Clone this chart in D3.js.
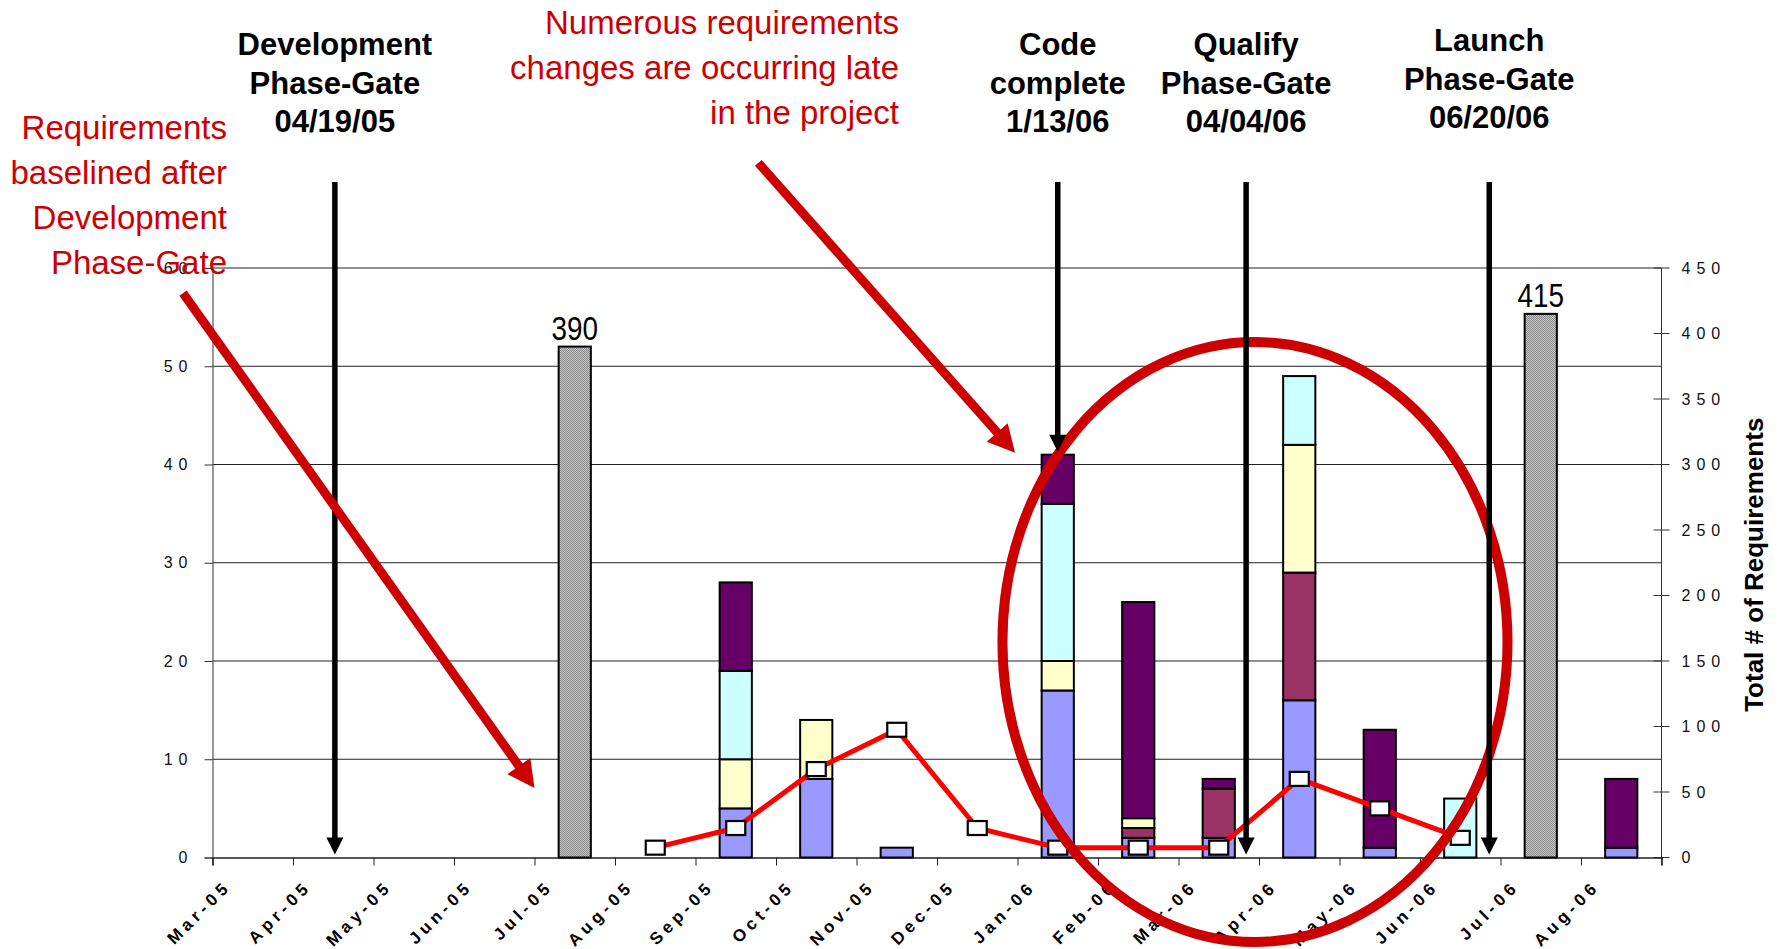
<!DOCTYPE html>
<html>
<head>
<meta charset="utf-8">
<script src="https://cdn.jsdelivr.net/npm/d3@7"></script>
<style>
  body { margin: 0; background: #fff; }
  svg { display: block; font-family: Arial, "Liberation Sans", sans-serif; }
</style>
</head>
<body>
<div id="chart"></div>
<script>
// months on the date axis
const months = ["Mar-05","Apr-05","May-05","Jun-05","Jul-05","Aug-05","Sep-05","Oct-05","Nov-05",
                "Dec-05","Jan-06","Feb-06","Mar-06","Apr-06","May-06","Jun-06","Jul-06","Aug-06"];

// stacked change counts (left axis), bottom to top
const lavender = [0,0,0,0,0,0,5,8,1,0,17,2,2,16,1,0,0,1];
const plum     = [0,0,0,0,0,0,0,0,0,0,0,1,5,13,0,0,0,0];
const cream    = [0,0,0,0,0,0,5,6,0,0,3,1,0,13,0,0,0,0];
const aqua     = [0,0,0,0,0,0,9,0,0,0,16,0,0,7,0,6,0,0];
const purple   = [0,0,0,0,0,0,9,0,0,0,5,22,1,0,12,0,0,7];

// total # of requirements (right axis)
const totalReqs = [null,null,null,null,390,null,null,null,null,null,null,null,null,null,null,null,415,null];

// red trend line (left axis)
const trend = [null,null,null,null,null,1,3,9,13,3,1,1,1,8,5,2,null,null];

const leftTicks = [0,10,20,30,40,50,60];
const rightTicks = [0,50,100,150,200,250,300,350,400,450];

// milestones: position in months from Mar-05, arrow tip value
const milestoneText = [
  ["Development","Phase-Gate","04/19/05"],
  ["Code","complete","1/13/06"],
  ["Qualify","Phase-Gate","04/04/06"],
  ["Launch","Phase-Gate","06/20/06"]
];
const milestonePos = [1.52, 10.5, 12.84, 15.86];
const milestoneTip = [0, 41, 0, 0];

const noteLeft = ["Requirements","baselined after","Development","Phase-Gate"];
const noteTop = ["Numerous requirements","changes are occurring late","in the project"];

const keys = ["lavender","plum","cream","aqua","purple"];
const colors = {lavender:"#9999FF", plum:"#993366", cream:"#FFFFCC", aqua:"#CCFFFF", purple:"#660066"};

const W = 1782, H = 949;
const plot = {left: 212.5, right: 1661.5, top: 268, bottom: 857.5};

const svg = d3.select("#chart").append("svg")
  .attr("width", W).attr("height", H);

const defs = svg.append("defs");
const pat = defs.append("pattern").attr("id","hatch")
  .attr("patternUnits","userSpaceOnUse").attr("width",2).attr("height",2);
pat.append("rect").attr("width",2).attr("height",2).attr("fill","#c4c4c4");
pat.append("rect").attr("width",1).attr("height",1).attr("fill","#8c8c8c");
pat.append("rect").attr("x",1).attr("y",1).attr("width",1).attr("height",1).attr("fill","#8c8c8c");

const x = d3.scaleBand().domain(months)
  .range([plot.left, plot.right]).paddingInner(0.6).paddingOuter(0.3);
const xm = d3.scaleLinear().domain([0, months.length]).range([plot.left, plot.right]);
const yL = d3.scaleLinear().domain([0, 60]).range([plot.bottom, plot.top]);
const yR = d3.scaleLinear().domain([0, 450]).range([plot.bottom, plot.top]);

// gridlines
svg.append("g").selectAll("line")
  .data(leftTicks.slice(1))
  .join("line")
    .attr("x1", plot.left).attr("x2", plot.right)
    .attr("y1", d => yL(d)).attr("y2", d => yL(d))
    .attr("stroke", "#222").attr("stroke-width", 1);

// left axis
const gl = svg.append("g")
  .attr("transform", `translate(${plot.left},0)`)
  .call(d3.axisLeft(yL).tickValues(leftTicks).tickSize(8).tickPadding(11));
gl.select(".domain").attr("stroke","#333");
gl.selectAll(".tick line").attr("stroke","#333");
gl.selectAll("text").attr("font-size", 16).attr("letter-spacing", "6px")
  .attr("fill","#111").style("font-family","Arial, 'Liberation Sans', sans-serif");

// right axis
const gr = svg.append("g").attr("transform", `translate(${plot.right},0)`);
gr.append("line").attr("y1", plot.top).attr("y2", plot.bottom).attr("stroke","#333");
gr.selectAll(".rt").data(rightTicks).join("line")
  .attr("x1", -8).attr("x2", 8)
  .attr("y1", d => yR(d)).attr("y2", d => yR(d)).attr("stroke","#333");
gr.selectAll(".rl").data(rightTicks).join("text")
  .attr("x", 20).attr("y", d => yR(d)).attr("dy", "0.35em")
  .attr("font-size", 16).attr("letter-spacing", "6px").attr("fill","#111")
  .text(d => d);
svg.append("text")
  .attr("transform", `translate(1763,${(plot.top + plot.bottom) / 2 + 2}) rotate(-90)`)
  .attr("text-anchor","middle").attr("font-size", 26).attr("font-weight","bold")
  .text("Total # of Requirements");

// bottom axis
const gb = svg.append("g")
  .attr("transform", `translate(0,${plot.bottom})`)
  .call(d3.axisBottom(xm).tickValues(d3.range(months.length + 1)).tickSize(8)
        .tickFormat(i => months[i] || ""));
gb.select(".domain").attr("stroke","#222").attr("stroke-width",1.5);
gb.selectAll(".tick line").attr("stroke","#222");
gb.selectAll("text")
  .attr("x", 0).attr("y", 0).attr("dy", 0)
  .attr("transform", "translate(19,30) rotate(-45)")
  .style("text-anchor", "end")
  .attr("font-size", 17).attr("font-weight", "bold").attr("letter-spacing", "4.5px")
  .attr("fill", "#000").style("font-family","Arial, 'Liberation Sans', sans-serif");

// stacked bars
const table = months.map((m, i) => ({month: m, lavender: lavender[i], plum: plum[i],
  cream: cream[i], aqua: aqua[i], purple: purple[i]}));
const stacked = d3.stack().keys(keys)(table);

svg.append("g").selectAll("g")
  .data(stacked)
  .join("g")
    .attr("fill", d => colors[d.key])
  .selectAll("rect")
  .data(d => d.filter(s => s[1] > s[0]))
  .join("rect")
    .attr("x", d => x(d.data.month))
    .attr("y", d => yL(d[1]))
    .attr("width", x.bandwidth())
    .attr("height", d => yL(d[0]) - yL(d[1]))
    .attr("stroke", "#000").attr("stroke-width", 2);

// total requirement bars (right axis)
const totals = months.map((m, i) => ({month: m, v: totalReqs[i]})).filter(d => d.v != null);
svg.append("g").selectAll("rect")
  .data(totals)
  .join("rect")
    .attr("x", d => x(d.month))
    .attr("y", d => yR(d.v))
    .attr("width", x.bandwidth())
    .attr("height", d => yR(0) - yR(d.v))
    .attr("fill", "url(#hatch)")
    .attr("stroke", "#000").attr("stroke-width", 2);
svg.append("g").selectAll("g")
  .data(totals)
  .join("g")
    .attr("transform", d => `translate(${x(d.month) + x.bandwidth() / 2},${yR(d.v) - 7}) scale(0.82,1)`)
  .append("text")
    .attr("text-anchor", "middle").attr("font-size", 34).attr("fill", "#000")
    .text(d => d.v);

// trend line
const trendPts = months.map((m, i) => ({month: m, v: trend[i]})).filter(d => d.v != null);
const cx = d => x(d.month) + x.bandwidth() / 2;
svg.append("path")
  .datum(trendPts)
  .attr("fill", "none").attr("stroke", "#FF0000").attr("stroke-width", 5)
  .attr("stroke-linejoin", "round")
  .attr("d", d3.line().x(cx).y(d => yL(d.v)));
svg.append("g").selectAll("rect")
  .data(trendPts)
  .join("rect")
    .attr("x", d => cx(d) - 9.5).attr("y", d => yL(d.v) - 7)
    .attr("width", 19).attr("height", 14)
    .attr("fill", "#fff").attr("stroke", "#000").attr("stroke-width", 2.2);

// red ellipse around late changes
svg.append("ellipse")
  .attr("cx", xm(12.95)).attr("cy", yL(21.93))
  .attr("rx", xm(3.137) - xm(0)).attr("ry", yL(0) - yL(30.53))
  .attr("fill", "none").attr("stroke", "#CC0000").attr("stroke-width", 10);

// black milestone arrows and labels
const labelBase = [55, 55, 55, 51];
milestonePos.forEach((p, i) => {
  const ax = xm(p), top = 182, tip = yL(milestoneTip[i]) - 3;
  svg.append("line")
    .attr("x1", ax).attr("x2", ax).attr("y1", top).attr("y2", tip - 14)
    .attr("stroke", "#000").attr("stroke-width", 5.5);
  svg.append("path")
    .attr("d", `M${ax - 8.5},${tip - 17}L${ax + 8.5},${tip - 17}L${ax},${tip}Z`)
    .attr("fill", "#000");
  const t = svg.append("text")
    .attr("text-anchor", "middle").attr("font-size", 31).attr("font-weight", "bold").attr("fill", "#000");
  milestoneText[i].forEach((s, j) => {
    t.append("tspan").attr("x", ax).attr("y", labelBase[i] + j * 38.5).text(s);
  });
});

// red annotation arrows
function redArrow(m0, v0, m1, v1) {
  const x0 = xm(m0), y0 = yL(v0), x1 = xm(m1), y1 = yL(v1);
  const len = Math.hypot(x1 - x0, y1 - y0);
  const ux = (x1 - x0) / len, uy = (y1 - y0) / len;
  const hl = 27, hw = 14;
  const bx = x1 - ux * hl, by = y1 - uy * hl;
  svg.append("line")
    .attr("x1", x0).attr("y1", y0).attr("x2", bx + ux * 2).attr("y2", by + uy * 2)
    .attr("stroke", "#CC0000").attr("stroke-width", 9);
  svg.append("path")
    .attr("d", `M${x1},${y1}L${bx - uy * hw},${by + ux * hw}L${bx + uy * hw},${by - ux * hw}Z`)
    .attr("fill", "#CC0000");
}
redArrow(-0.366, 57.45, 4.0, 7.07);
redArrow(6.78, 70.7, 9.97, 41.2);

// red notes
const n1 = svg.append("text").attr("text-anchor", "end").attr("font-size", 33).attr("fill", "#CC0000");
noteLeft.forEach((s, j) => n1.append("tspan").attr("x", 227).attr("y", 139 + j * 45).text(s));
const n2 = svg.append("text").attr("text-anchor", "end").attr("font-size", 33).attr("fill", "#CC0000");
noteTop.forEach((s, j) => n2.append("tspan").attr("x", 899).attr("y", 34 + j * 45).text(s));
</script>
</body>
</html>
